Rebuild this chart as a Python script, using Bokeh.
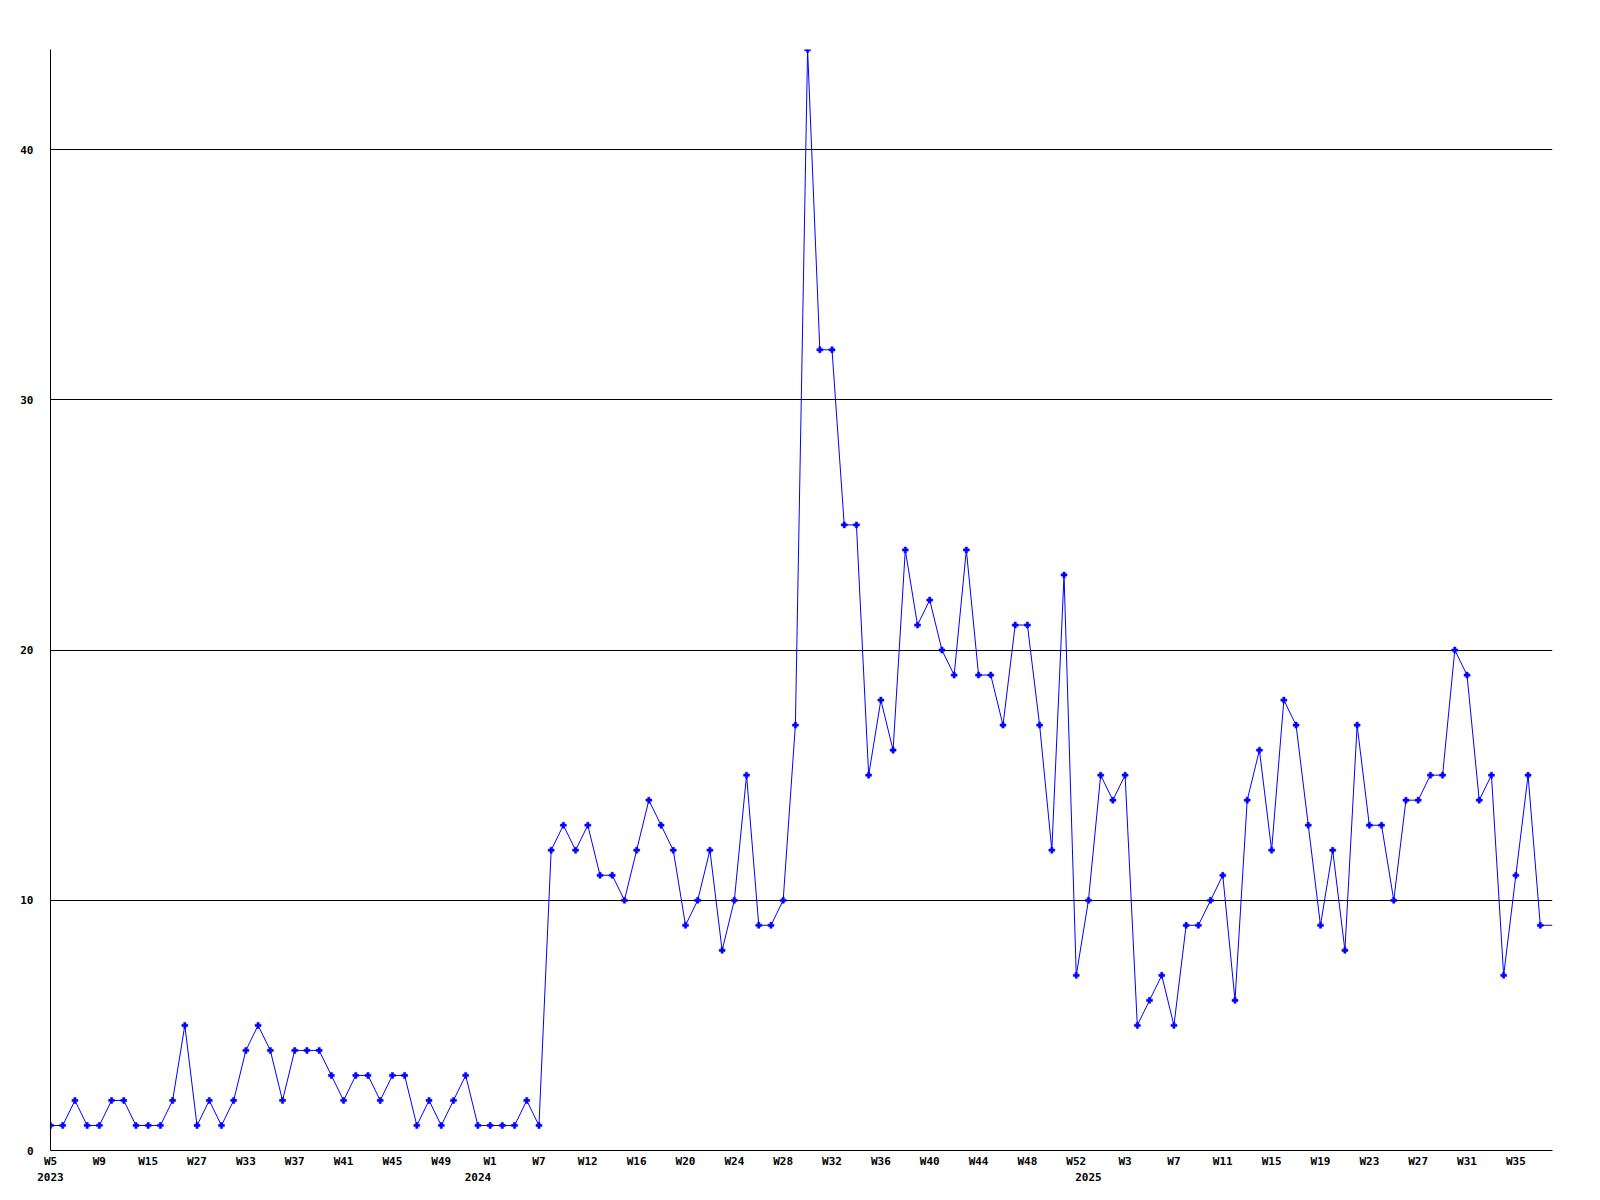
from bokeh.plotting import figure
from bokeh.models import Range1d, FixedTicker, LinearAxis, ColumnDataSource
from bokeh.embed import file_html
from bokeh.resources import INLINE

# weekly counts, one per plotted week (2023 W5 ... 2025 W37)
values = [
    1, 1, 2, 1, 1, 2, 2, 1, 1, 1,
    2, 5, 1, 2, 1, 2, 4, 5, 4, 2,
    4, 4, 4, 3, 2, 3, 3, 2, 3, 3,
    1, 2, 1, 2, 3, 1, 1, 1, 1, 2,
    1, 12, 13, 12, 13, 11, 11, 10, 12, 14,
    13, 12, 9, 10, 12, 8, 10, 15, 9, 9,
    10, 17, 44, 32, 32, 25, 25, 15, 18, 16,
    24, 21, 22, 20, 19, 24, 19, 19, 17, 21,
    21, 17, 12, 23, 7, 10, 15, 14, 15, 5,
    6, 7, 5, 9, 9, 10, 11, 6, 14, 16,
    12, 18, 17, 13, 9, 12, 8, 17, 13, 13,
    10, 14, 14, 15, 15, 20, 19, 14, 15, 7,
    11, 15, 9,
]

# week labels shown under every 4th week
week_labels = ["W5", "W9", "W15", "W27", "W33", "W37", "W41", "W45", "W49",
               "W1", "W7", "W12", "W16", "W20", "W24", "W28", "W32", "W36",
               "W40", "W44", "W48", "W52", "W3", "W7", "W11", "W15", "W19",
               "W23", "W27", "W31", "W35"]
label_step = 4

# year labels and the index of the week where each one is written
years = ["2023", "2024", "2025"]
year_index = [0, 35, 85]

y_ticks = [0, 10, 20, 30, 40]

n = len(values)
idx = list(range(n))

FONT = "DejaVu Sans Mono"

p = figure(frame_width=1502, frame_height=1101,
           x_range=Range1d(0, n), y_range=Range1d(0, max(values)),
           output_backend="svg", toolbar_location=None,
           min_border_left=50, min_border_top=49,
           min_border_right=40, min_border_bottom=42)
p.outline_line_color = None
p.background_fill_color = "white"
p.border_fill_color = "white"

# grid
p.xgrid.visible = False
p.ygrid.ticker = FixedTicker(ticks=y_ticks[1:])
p.ygrid.grid_line_color = "black"
p.ygrid.grid_line_alpha = 1.0
p.ygrid.grid_line_width = 1

# y axis
p.yaxis.ticker = FixedTicker(ticks=y_ticks)
p.yaxis.axis_line_color = "black"
p.yaxis.major_tick_line_color = None
p.yaxis.minor_tick_line_color = None
p.yaxis.major_label_standoff = 11
p.yaxis.major_label_text_font = FONT
p.yaxis.major_label_text_font_style = "bold"
p.yaxis.major_label_text_font_size = "11px"
p.yaxis.major_label_text_color = "black"

# x axis with week labels
week_ticks = [i * label_step for i in range(len(week_labels))]
p.xaxis.ticker = FixedTicker(ticks=week_ticks)
p.xaxis.major_label_overrides = {t: lab for t, lab in zip(week_ticks, week_labels)}
p.xaxis.axis_line_color = "black"
p.xaxis.major_tick_line_color = None
p.xaxis.minor_tick_line_color = None
p.xaxis.major_label_standoff = -2
p.xaxis.major_label_text_font = FONT
p.xaxis.major_label_text_font_style = "bold"
p.xaxis.major_label_text_font_size = "11px"
p.xaxis.major_label_text_color = "black"

# second axis with years
year_axis = LinearAxis(ticker=FixedTicker(ticks=year_index),
                       major_label_overrides={t: y for t, y in zip(year_index, years)},
                       axis_line_color=None, major_tick_line_color=None,
                       minor_tick_line_color=None, major_label_standoff=-4,
                       major_label_text_font=FONT,
                       major_label_text_font_style="bold",
                       major_label_text_font_size="11px",
                       major_label_text_color="black")
p.add_layout(year_axis, "below")

# line continues flat from the last week to the right edge
line_src = ColumnDataSource(data=dict(x=idx + [n], y=values + [values[-1]]))
pt_src = ColumnDataSource(data=dict(x=idx, y=values))

p.line("x", "y", source=line_src, line_color="#0000ff", line_width=1)
p.scatter("x", "y", source=pt_src, marker="plus", size=6,
          fill_color="#0000ff", line_color="#0000ff", line_width=0.5)

open("out.html", "w").write(file_html(p, INLINE))
